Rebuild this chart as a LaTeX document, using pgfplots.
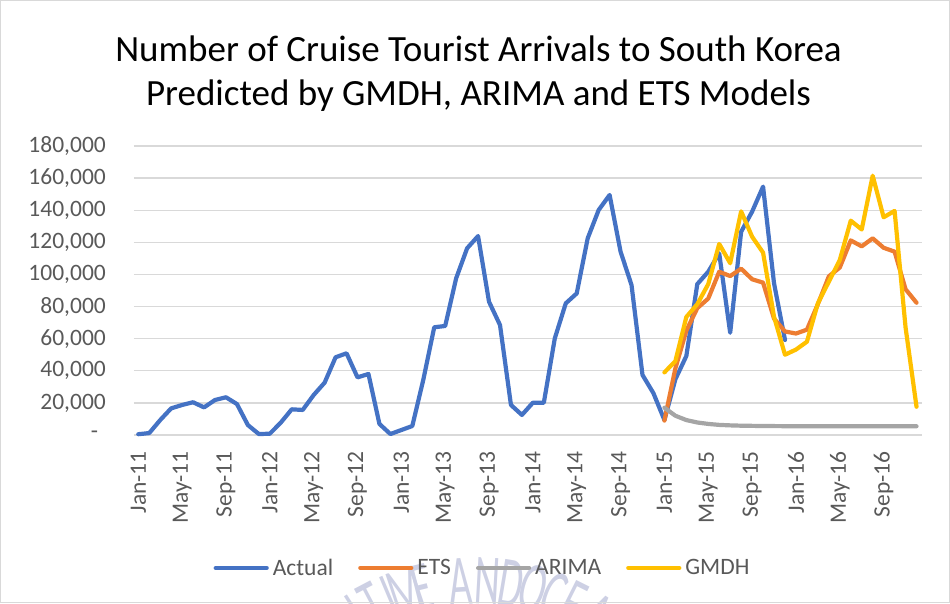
\documentclass[border=0pt]{standalone}
\usepackage{pgfplots}
\pgfplotsset{compat=1.18}
\usetikzlibrary{backgrounds}
\usepackage{fontspec}
\setmainfont{Carlito}
\definecolor{actual}{HTML}{4472C4}
\definecolor{ets}{HTML}{ED7D31}
\definecolor{arima}{HTML}{A5A5A5}
\definecolor{gmdh}{HTML}{FFC000}
\definecolor{gridc}{HTML}{D9D9D9}
\definecolor{labc}{HTML}{595959}
\definecolor{wm}{HTML}{CDD0E4}
\begin{document}
\begin{tikzpicture}
\begin{axis}[
  scale only axis,
  width=788pt, height=289pt,
  xmin=-0.39, xmax=71.5, ymin=0, ymax=180000,
  scaled y ticks=false,
  axis line style={draw=none},
  major tick length=0pt,
  ymajorgrids, grid style={gridc, line width=1.3pt},
  ytick={0,20000,40000,60000,80000,100000,120000,140000,160000,180000},
  yticklabels={{\makebox[15pt][l]{-}},{20,000},{40,000},{60,000},{80,000},{100,000},{120,000},{140,000},{160,000},{180,000}},
  xtick={0,4,...,68},
  xticklabels={Jan-11,May-11,Sep-11,Jan-12,May-12,Sep-12,Jan-13,May-13,Sep-13,Jan-14,May-14,Sep-14,Jan-15,May-15,Sep-15,Jan-16,May-16,Sep-16},
  ticklabel style={font=\fontsize{23.5}{23.5}\selectfont, text=labc, inner sep=0pt},
  yticklabel style={anchor=east},
  xticklabel style={rotate=90, anchor=east},
  yticklabel shift=28pt, xticklabel shift=16pt,
  clip=false,
  legend columns=4,
  legend style={at={(0.441,-0.46)}, anchor=center, draw=none, fill=none,
    font=\fontsize{23.5}{23.5}\selectfont, text=labc,
    nodes={inner sep=0pt, anchor=west},
    /tikz/every odd column/.append style={column sep=4pt},
    /tikz/every even column/.append style={column sep=25pt}},
  legend image code/.code={\draw[#1, line cap=round] (0pt,0pt) -- (51pt,0pt);},
  every axis plot/.append style={line width=4.2pt, line join=round, line cap=round, mark=none},
]
\coordinate (SW) at (rel axis cs:0,0);
\addplot[actual] table {
x y
0 500
1 1200
2 9300
3 16600
4 18700
5 20400
6 17200
7 21800
8 23500
9 19300
10 6200
11 600
12 800
13 7700
14 16000
15 15600
16 24900
17 32600
18 48400
19 50900
20 35900
21 38000
22 6900
23 600
24 3100
25 5600
26 34300
27 67100
28 67900
29 97600
30 116300
31 123900
32 83000
33 68500
34 18700
35 12500
36 20100
37 20100
38 60200
39 82000
40 88200
41 122500
42 140100
43 149500
44 114200
45 93400
46 37400
47 26000
48 9300
49 34700
50 49200
51 94000
52 101700
53 113100
54 63700
55 126600
56 139100
57 154700
58 94500
59 59200
};
\addplot[ets] table {
x y
48 9000
49 41500
50 65000
51 79000
52 85000
53 101700
54 99000
55 103600
56 97000
57 94900
58 72500
59 64500
60 63200
61 65600
62 81500
63 98800
64 104300
65 121200
66 117500
67 122500
68 116600
69 114200
70 90800
71 82400
};
\addplot[arima] table {
x y
48 17000
49 12000
50 9300
51 7800
52 6900
53 6300
54 6000
55 5800
56 5700
57 5600
58 5550
59 5500
60 5500
61 5500
62 5500
63 5500
64 5500
65 5500
66 5450
67 5450
68 5450
69 5450
70 5450
71 5450
};
\addplot[gmdh] table {
x y
48 39000
49 46000
50 73500
51 81500
52 94000
53 119000
54 107000
55 139300
56 123500
57 113600
58 73700
59 50000
60 53200
61 58100
62 82000
63 95500
64 109000
65 133500
66 128000
67 161500
68 135600
69 139600
70 67000
71 17600
};
\legend{Actual,ETS,ARIMA,GMDH}
\end{axis}
\begin{scope}[shift={(SW)}, xshift=-134pt, yshift=-168pt, x=1pt, y=1pt]
  \coordinate (BL) at (0,0);
  \coordinate (TR) at (950,603);
  \begin{scope}[on background layer]
    \clip (0,0) rectangle (950,603);
    \foreach \a/\l in {122.5/I,117.7/T,112.8/I,108.5/M,104.1/E,93.7/A,86.8/N,80.5/D,74.6/O,68.8/C,63.4/E,56.8/A,51/N}
      \node[text=wm, font=\fontsize{72}{72}\selectfont, inner sep=0pt, anchor=base, rotate=\a-90, xscale=0.55] at ([shift={(475,-196)}]\a:195) {\l};
  \end{scope}
  \draw[gridc, line width=1pt] (0.5,0.5) rectangle (949.5,602.5);
  \node[anchor=base, font=\fontsize{37}{37}\selectfont, text=black] at (478.5,541) {Number of Cruise Tourist Arrivals to South Korea};
  \node[anchor=base, font=\fontsize{37}{37}\selectfont, text=black] at (478.5,497) {Predicted by GMDH, ARIMA and ETS Models};
\end{scope}
\pgfresetboundingbox
\useasboundingbox (BL) rectangle (TR);
\end{tikzpicture}
\end{document}
